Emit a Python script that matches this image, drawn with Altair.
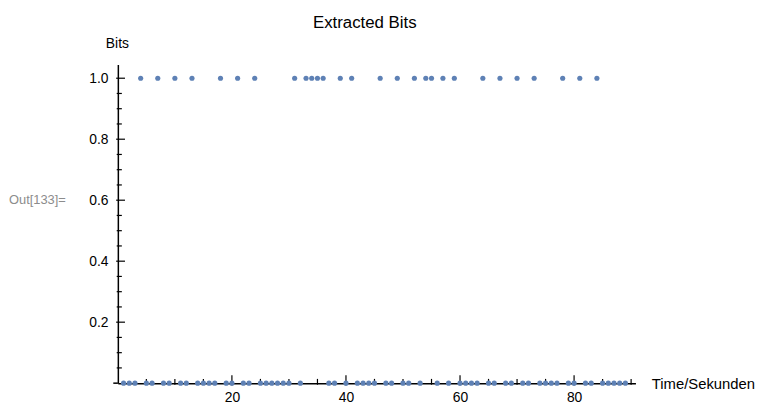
import altair as alt
import pandas as pd

# ---- data ----
times = list(range(1, 90))
bits = [0, 0, 0, 1, 0, 0, 1, 0, 0, 1,
        0, 0, 1, 0, 0, 0, 0, 1, 0, 0,
        1, 0, 0, 1, 0, 0, 0, 0, 0, 0,
        1, 0, 1, 1, 1, 1, 0, 0, 1, 0,
        1, 0, 0, 0, 0, 1, 0, 0, 1, 0,
        0, 1, 0, 1, 1, 0, 1, 0, 1, 0,
        0, 0, 0, 1, 0, 0, 1, 0, 0, 1,
        0, 0, 1, 0, 0, 0, 0, 1, 0, 0,
        1, 0, 0, 1, 0, 0, 0, 0, 0]
x_major = [20, 40, 60, 80]
x_minor = [5, 10, 15, 25, 30, 35, 45, 50, 55, 65, 70, 75, 85, 90]
y_major = [0.2, 0.4, 0.6, 0.8, 1.0]
y_minor = [0.05, 0.1, 0.15, 0.25, 0.3, 0.35, 0.45, 0.5, 0.55,
           0.65, 0.7, 0.75, 0.85, 0.9, 0.95]

FONT = "Liberation Sans"
W, H = 523, 322
xdom = [0, 90.76]
ydom = [0, 1.045]

pts = pd.DataFrame({"t": times, "b": bits})
xs = alt.Scale(domain=xdom, nice=False, zero=False)
ys = alt.Scale(domain=ydom, nice=False, zero=False)

points = alt.Chart(pts).mark_circle(size=27, opacity=1, color="#5E81B5").encode(
    x=alt.X("t:Q", scale=xs,
            axis=alt.Axis(values=x_major, format="d", ticks=False, grid=False,
                          domainColor="black", domainWidth=1.5,
                          labelFont=FONT, labelFontSize=14, labelColor="black",
                          labelPadding=8,
                          title="Time/Sekunden", titleFont=FONT, titleFontSize=15,
                          titleFontWeight="normal", titleColor="black",
                          titleAngle=0, titleAlign="left", titleBaseline="middle",
                          titleX=W + 16, titleY=0)),
    y=alt.Y("b:Q", scale=ys,
            axis=alt.Axis(values=y_major, format=".1f", ticks=False, grid=False,
                          domainColor="black", domainWidth=1.5,
                          labelFont=FONT, labelFontSize=14, labelColor="black",
                          labelPadding=10,
                          title="Bits", titleFont=FONT, titleFontSize=14,
                          titleFontWeight="normal", titleColor="black",
                          titleAngle=0, titleAlign="center", titleBaseline="bottom",
                          titleX=-1, titleY=-14)),
)

xmaj = pd.DataFrame({"x": x_major, "y0": [-0.008] * len(x_major), "y1": [0.026] * len(x_major)})
xmin = pd.DataFrame({"x": x_minor, "y0": [-0.005] * len(x_minor), "y1": [0.014] * len(x_minor)})
ymaj = pd.DataFrame({"y": y_major, "x0": [-0.3] * len(y_major), "x1": [1.25] * len(y_major)})
ymin = pd.DataFrame({"y": y_minor, "x0": [-0.2] * len(y_minor), "x1": [0.7] * len(y_minor)})

def xticks(df):
    return alt.Chart(df).mark_rule(color="black", strokeWidth=1.2).encode(
        x=alt.X("x:Q", scale=xs), y=alt.Y("y0:Q", scale=ys), y2="y1:Q")

def yticks(df):
    return alt.Chart(df).mark_rule(color="black", strokeWidth=1.2).encode(
        y=alt.Y("y:Q", scale=ys), x=alt.X("x0:Q", scale=xs), x2="x1:Q")

stub = alt.Chart(pd.DataFrame({"x0": [-0.8], "x1": [0.0], "y": [0.0]})).mark_rule(
    color="black", strokeWidth=1.5).encode(
    x=alt.X("x0:Q", scale=xs), x2="x1:Q", y=alt.Y("y:Q", scale=ys))

out_lbl = alt.Chart(pd.DataFrame({"label": ["Out[133]="], "y": [0.6]})).mark_text(
    align="left", baseline="middle", font=FONT, fontSize=13, color="#8c8c8c").encode(
    x=alt.value(-110), y=alt.Y("y:Q", scale=ys), text="label:N")

chart = alt.layer(
    xticks(xmin), xticks(xmaj), yticks(ymin), yticks(ymaj), stub, points, out_lbl
).properties(
    width=W, height=H,
    title=alt.TitleParams("Extracted Bits", font=FONT, fontSize=17, fontWeight="normal",
                          color="black", anchor="middle", frame="group", dx=-12, offset=5),
    autosize=alt.AutoSizeParams(type="none"),
    padding={"left": 111, "top": 55, "right": 140, "bottom": 22},
).configure_view(stroke=None)

chart.save("out.html", embed_options={"renderer": "svg", "actions": False})
